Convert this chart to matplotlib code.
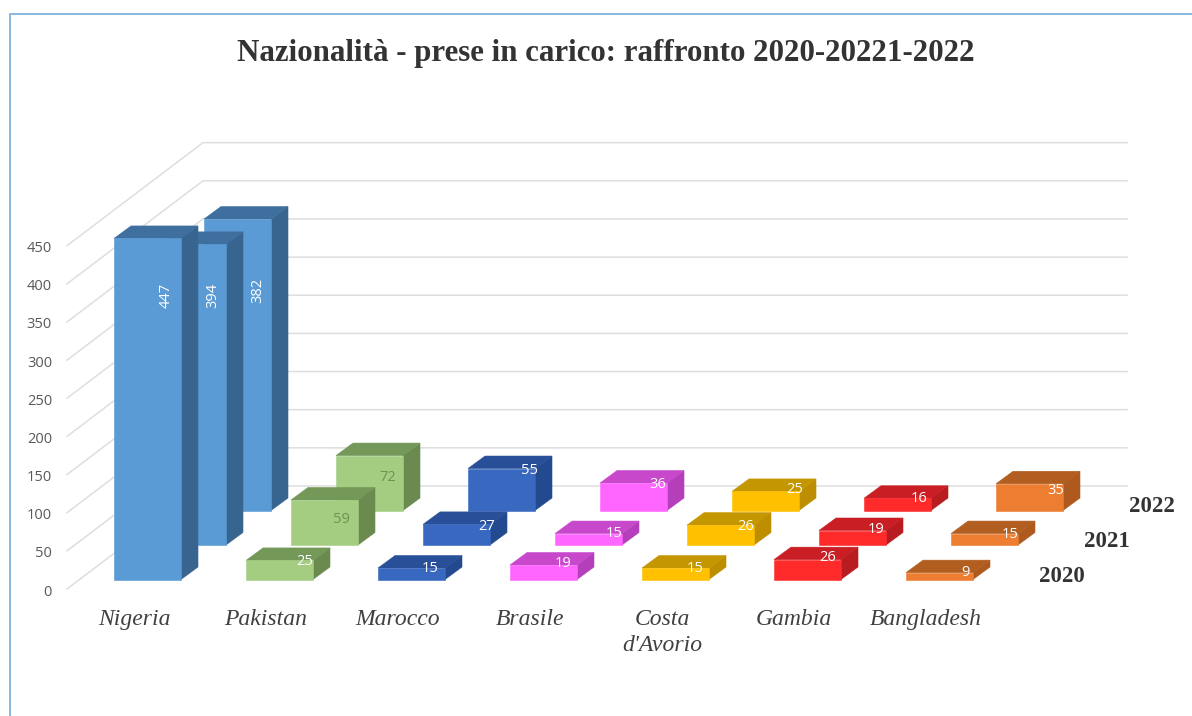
import matplotlib
matplotlib.use('Agg')
import matplotlib.pyplot as plt
from matplotlib.lines import Line2D
from matplotlib.patches import Polygon

#--------------------------------data--------------------------------
title = 'Nazionalità - prese in carico: raffronto 2020-20221-2022'
categories = ['Nigeria', 'Pakistan', 'Marocco', 'Brasile', "Costa\nd'Avorio", 'Gambia', 'Bangladesh']
years = ['2020', '2021', '2022']
values_2020 = [447, 25, 15, 19, 15, 26, 9]
values_2021 = [394, 59, 27, 15, 26, 19, 15]
values_2022 = [382, 72, 55, 36, 25, 16, 35]
series = [values_2020, values_2021, values_2022]
axis_ticks = [0, 50, 100, 150, 200, 250, 300, 350, 400, 450]

#--------------------------------styles--------------------------------
face_colors = ['#5B9BD5', '#A5CD82', '#3868C0', '#FF66FF', '#FFC000', '#FF2B2B', '#ED7D31']
side_colors = ['#38658F', '#6A8A50', '#234A8E', '#B53EBB', '#BC8E00', '#B81C20', '#AE5A1E']
top_colors = ['#3F6F9E', '#739858', '#284F98', '#C848CC', '#C49600', '#C81E24', '#B25E20']

# label placement per year: px from the left edge of the face, px below its top
label_dx = [[52, 59, 52, 53, 53, 54, 59],
            [54, 50, 64, 59, 59, 57, 59],
            [54, 52, 62, 58, 63, 55, 60]]
label_dy = [[57, 1, 0, -2, 0, -2, 0],
            [51, 20, 2, 0, 1, -1, 1],
            [71, 22, 2, 1, -2, 0, 7]]

#--------------------------------oblique projection--------------------------------
W, H = 1192, 716
PX_X = 132.0    # px per category
PX_Y = 0.763    # px per value unit
X0, Y0 = 114.0, 579.5    # where category 0, value 0, year 0 lands

BAR_W = 67 / PX_X
SIDE_X, SIDE_Y = 17 / PX_X, 12.5 / PX_Y
ROW_X, ROW_Y = 45 / PX_X, 34.5 / PX_Y

fig = plt.figure(figsize = (W/100, H/100), dpi = 100, facecolor = 'white')
ax = fig.add_axes([0, 0, 1, 1])
ax.set_xlim(-X0/PX_X, (W - X0)/PX_X)
ax.set_ylim((Y0 - H)/PX_Y, Y0/PX_Y)
ax.axis('off')

def draw_bar(ax, x, base, value, cat):
    left, right = x, x + BAR_W
    top = base + value
    # same colour edge closes the seams between the three faces
    ax.add_patch(Polygon([(right, base), (right + SIDE_X, base + SIDE_Y), (right + SIDE_X, top + SIDE_Y), (right, top)],
                         fc = side_colors[cat], ec = side_colors[cat], lw = 0.4, zorder = 3))
    ax.add_patch(Polygon([(left, top), (right, top), (right + SIDE_X, top + SIDE_Y), (left + SIDE_X, top + SIDE_Y)],
                         fc = top_colors[cat], ec = top_colors[cat], lw = 0.4, zorder = 3))
    ax.add_patch(Polygon([(left, base), (right, base), (right, top), (left, top)],
                         fc = face_colors[cat], ec = face_colors[cat], lw = 0.4, zorder = 3))

#--------------------------------walls--------------------------------
wall_front_x, wall_back_x = -47/PX_X, 89/PX_X
wall_front_y, wall_back_y = -9.5/PX_Y, 93.5/PX_Y
wall_right_x = (1127 - X0)/PX_X
for tick in axis_ticks:
    ax.plot([wall_front_x, wall_back_x, wall_right_x],
            [tick + wall_front_y, tick + wall_back_y, tick + wall_back_y],
            color = '#DEDEDE', lw = 1.1, zorder = 1)
    ax.text(wall_front_x - 15/PX_X, tick + wall_front_y - 3/PX_Y, str(tick), ha = 'right', va = 'center',
            fontsize = 10.5, color = '#595959', family = 'Open Sans')

#--------------------------------bars, back row first--------------------------------
for row in [2, 1, 0]:
    for cat, value in enumerate(series[row]):
        x = cat + row*ROW_X
        base = row*ROW_Y
        draw_bar(ax, x, base, value, cat)

        color = '#6F9350' if cat == 1 and row > 0 else 'white'
        ax.text(x + label_dx[row][cat]/PX_X, base + value - label_dy[row][cat]/PX_Y, str(value),
                ha = 'center', va = 'center', rotation = 90 if cat == 0 else 0,
                fontsize = 10.5, color = color, family = 'Open Sans', zorder = 4)

#--------------------------------text--------------------------------
ax.text((606 - X0)/PX_X, (Y0 - 53)/PX_Y, title, ha = 'center', va = 'center',
        fontsize = 22.2, fontweight = 'bold', color = '#333333', family = 'Liberation Serif')

for cat, name in enumerate(categories):
    ax.text(cat + 20/PX_X, (Y0 - 609)/PX_Y, name, ha = 'center', va = 'top', linespacing = 1.3,
            fontsize = 17, fontstyle = 'italic', color = '#404040', family = 'Liberation Serif')

# year names sit to the right of the last bar of each row
for row, year in enumerate(years):
    ax.text(len(categories) - 1 + row*ROW_X + 156/PX_X, row*ROW_Y + 3.5/PX_Y, year, ha = 'center', va = 'center',
            fontsize = 16.5, fontweight = 'bold', color = '#333333', family = 'Liberation Serif')

#--------------------------------outer frame--------------------------------
fig.add_artist(Line2D([9.5/W, 9.5/W, 1], [0, 1 - 13.5/H, 1 - 13.5/H], color = '#7FB3DE', lw = 1.3))

plt.savefig('out.png', dpi = 100)
